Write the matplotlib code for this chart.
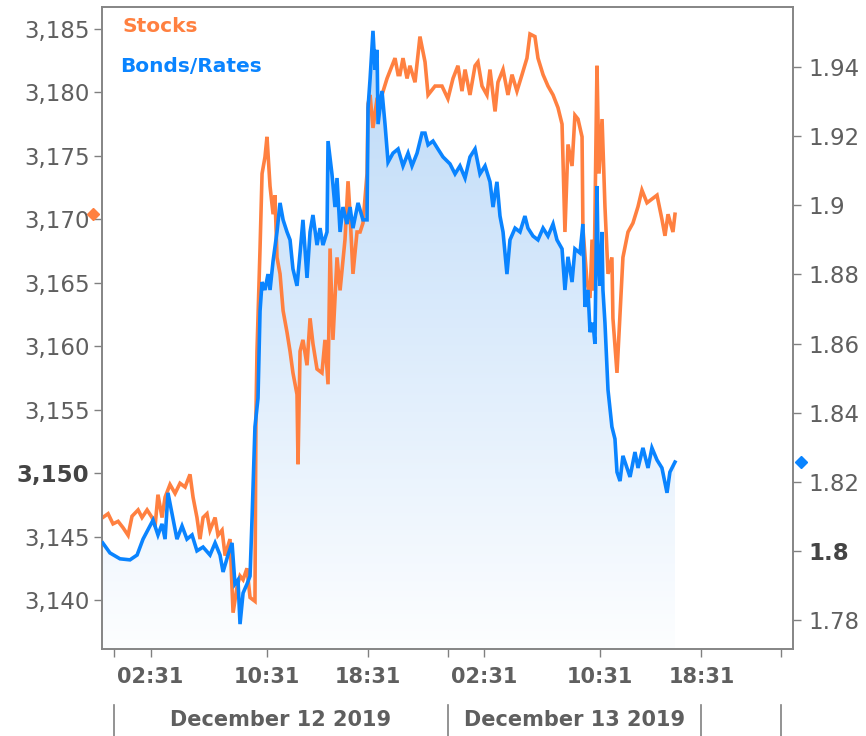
import numpy as np
import matplotlib.pyplot as plt
from matplotlib.colors import LinearSegmentedColormap
from matplotlib.transforms import blended_transform_factory

# time axis: hours since Dec 12 00:00, session clock (17:00-18:00 breaks removed)
bond_t = [-0.78, -0.28, 0.41, 1.10, 1.59, 2.00, 2.48, 2.69, 3.03, 3.31,
          3.52, 3.72, 4.00, 4.34, 4.69, 5.03, 5.38, 5.72, 6.14, 6.62,
          6.97, 7.31, 7.52, 7.86, 8.14, 8.34, 8.55, 8.69, 8.90, 9.17,
          9.38, 9.52, 9.72, 9.93, 10.07, 10.21, 10.41, 10.62, 10.76, 10.97,
          11.24, 11.45, 11.66, 11.93, 12.14, 12.34, 12.62, 12.83, 13.03, 13.31,
          13.52, 13.72, 14.00, 14.21, 14.41, 14.69, 14.76, 15.03, 15.24, 15.38,
          15.59, 15.79, 16.07, 16.28, 16.48, 16.83, 17.17, 17.45, 17.52, 17.66,
          17.86, 18.00, 18.14, 18.21, 18.48, 18.69, 18.90, 19.24, 19.59, 19.93,
          20.28, 20.55, 20.90, 21.24, 21.45, 21.66, 22.00, 22.34, 22.69, 23.17,
          23.52, 23.86, 24.21, 24.55, 24.90, 25.24, 25.59, 25.93, 26.14, 26.41,
          26.62, 26.83, 27.10, 27.31, 27.66, 28.00, 28.34, 28.55, 28.90, 29.24,
          29.59, 29.93, 30.28, 30.55, 30.90, 31.10, 31.31, 31.59, 31.79, 32.14,
          32.34, 32.48, 32.69, 32.83, 33.03, 33.17, 33.31, 33.38, 33.52, 33.66,
          33.72, 33.86, 34.07, 34.34, 34.55, 34.69, 34.90, 35.10, 35.38, 35.59,
          35.93, 36.14, 36.48, 36.83, 37.10, 37.45, 37.79, 38.14, 38.34, 38.69]
bond_v = [1.8023, 1.7994, 1.7977, 1.7974, 1.7988, 1.8034, 1.8072, 1.8089, 1.8046, 1.8078,
          1.8034, 1.8168, 1.8107, 1.8034, 1.8072, 1.8034, 1.8046, 1.8000, 1.8011, 1.7988,
          1.8023, 1.7988, 1.7939, 1.7988, 1.8023, 1.7904, 1.7916, 1.7788, 1.7878, 1.7904,
          1.7927, 1.8095, 1.8359, 1.8442, 1.8694, 1.8778, 1.8755, 1.8801, 1.8755, 1.8839,
          1.8923, 1.9007, 1.8958, 1.8923, 1.8900, 1.8816, 1.8767, 1.8862, 1.8958, 1.8790,
          1.8923, 1.8972, 1.8885, 1.8934, 1.8885, 1.8923, 1.9186, 1.9091, 1.8995, 1.9079,
          1.8923, 1.8995, 1.8946, 1.8995, 1.8934, 1.9007, 1.8958, 1.8958, 1.9282, 1.9366,
          1.9505, 1.9392, 1.9450, 1.9235, 1.9331, 1.9235, 1.9125, 1.9151, 1.9163, 1.9114,
          1.9151, 1.9114, 1.9151, 1.9209, 1.9209, 1.9175, 1.9186, 1.9163, 1.9140, 1.9120,
          1.9091, 1.9114, 1.9079, 1.9140, 1.9163, 1.9091, 1.9114, 1.9068, 1.8995, 1.9068,
          1.8969, 1.8923, 1.8801, 1.8900, 1.8934, 1.8923, 1.8969, 1.8934, 1.8911, 1.8900,
          1.8934, 1.8911, 1.8946, 1.8900, 1.8874, 1.8755, 1.8851, 1.8778, 1.8874, 1.8862,
          1.8946, 1.8706, 1.8755, 1.8633, 1.8660, 1.8599, 1.9056, 1.8874, 1.8767, 1.8923,
          1.8755, 1.8660, 1.8466, 1.8359, 1.8324, 1.8228, 1.8202, 1.8275, 1.8240, 1.8214,
          1.8286, 1.8240, 1.8298, 1.8240, 1.8298, 1.8263, 1.8240, 1.8168, 1.8228, 1.8257]

stock_t = [-0.78, -0.41, -0.07, 0.28, 0.62, 0.97, 1.24, 1.66, 1.93, 2.28,
           2.62, 2.83, 3.03, 3.31, 3.52, 3.86, 4.21, 4.55, 4.90, 5.24,
           5.45, 5.72, 5.93, 6.14, 6.41, 6.62, 6.97, 7.17, 7.45, 7.66,
           8.00, 8.21, 8.48, 8.69, 8.90, 9.17, 9.38, 9.72, 9.79, 9.86,
           10.07, 10.21, 10.41, 10.55, 10.76, 10.97, 11.10, 11.24, 11.45, 11.66,
           11.93, 12.14, 12.34, 12.62, 12.69, 12.83, 13.03, 13.31, 13.52, 13.72,
           14.00, 14.34, 14.55, 14.76, 14.90, 15.10, 15.38, 15.59, 15.93, 16.14,
           16.28, 16.48, 16.76, 16.97, 17.17, 17.45, 17.52, 17.66, 17.86, 18.14,
           18.48, 18.83, 19.17, 19.38, 19.59, 19.72, 19.93, 20.21, 20.41, 20.76,
           21.10, 21.45, 21.66, 22.14, 22.62, 23.03, 23.38, 23.72, 24.00, 24.21,
           24.55, 24.90, 25.10, 25.38, 25.72, 25.93, 26.28, 26.48, 26.83, 27.17,
           27.45, 27.79, 28.14, 28.48, 28.69, 29.03, 29.24, 29.59, 29.93, 30.28,
           30.62, 30.90, 31.10, 31.31, 31.59, 31.79, 32.00, 32.28, 32.34, 32.62,
           32.83, 32.97, 33.10, 33.31, 33.45, 33.66, 33.86, 34.07, 34.34, 34.41,
           34.69, 34.90, 35.10, 35.45, 35.79, 36.14, 36.41, 36.76, 37.10, 37.45,
           37.79, 38.00, 38.21, 38.55, 38.69]
stock_v = [3146.5, 3146.8, 3146.0, 3146.2, 3145.7, 3145.1, 3146.6, 3147.1, 3146.5, 3147.1,
           3146.5, 3145.8, 3148.3, 3146.5, 3148.1, 3149.1, 3148.4, 3149.2, 3148.9, 3149.9,
           3148.1, 3146.5, 3144.8, 3146.5, 3146.8, 3145.5, 3146.5, 3145.1, 3145.5, 3143.5,
           3144.8, 3139.0, 3141.0, 3141.9, 3141.6, 3142.5, 3140.2, 3139.9, 3154.7, 3159.6,
           3167.7, 3173.6, 3174.9, 3176.5, 3172.6, 3170.4, 3171.9, 3167.0, 3165.7, 3162.8,
           3161.1, 3159.6, 3157.9, 3156.2, 3150.7, 3159.6, 3160.5, 3158.5, 3162.2, 3160.2,
           3158.2, 3157.9, 3160.5, 3157.0, 3167.7, 3160.5, 3167.0, 3164.4, 3168.4, 3173.0,
           3170.4, 3165.7, 3169.0, 3169.0, 3169.7, 3173.6, 3179.1, 3179.8, 3177.2, 3179.5,
           3179.8, 3181.1, 3182.1, 3182.7, 3181.4, 3181.4, 3182.7, 3181.1, 3182.1, 3180.8,
           3184.4, 3182.4, 3179.8, 3180.5, 3180.5, 3179.5, 3181.1, 3182.1, 3180.1, 3181.8,
           3179.8, 3182.1, 3182.4, 3180.5, 3179.8, 3181.8, 3178.5, 3180.8, 3181.8, 3179.8,
           3181.4, 3180.1, 3181.4, 3182.7, 3184.6, 3184.4, 3182.7, 3181.4, 3180.5, 3179.8,
           3178.8, 3177.5, 3169.0, 3175.9, 3174.2, 3178.2, 3177.9, 3176.5, 3169.3, 3165.1,
           3163.8, 3168.4, 3164.4, 3182.1, 3173.6, 3177.9, 3171.0, 3165.7, 3167.0, 3162.2,
           3157.9, 3162.5, 3167.0, 3169.0, 3169.7, 3171.0, 3172.3, 3171.3, 3171.6, 3171.9,
           3170.0, 3168.7, 3170.4, 3169.0, 3170.4]

x_ticks = [0, 2.517, 10.517, 17.517, 23, 25.517, 33.517, 40.517, 46]
x_labels = ["", "02:31", "10:31", "18:31", "", "02:31", "10:31", "18:31", ""]
day_edges = [0, 23, 40.517, 46]
day_labels = ["December 12 2019", "December 13 2019"]

stock_ticks = list(range(3140, 3186, 5))
bond_ticks = [1.78, 1.80, 1.82, 1.84, 1.86, 1.88, 1.90, 1.92, 1.94]

ORANGE = "#ff8040"
BLUE = "#0a84ff"
GREY = "#5f5f5f"

fig = plt.figure(figsize=(8.66, 7.36), dpi=100)
ax = fig.add_axes([102 / 866, 87 / 736, 691 / 866, 642 / 736])
ax2 = ax.twinx()

xlim = (-0.83, 46.83)
ylim_s = (3136.14, 3186.73)
ylim_b = (1.7716, 1.9574)

# gradient area under the bond line (drawn in ax so the orange line sits above it)
poly = ax.fill_between(bond_t, bond_v, ylim_b[0], facecolor="none",
                       edgecolor="none", transform=ax2.transData)
cmap = LinearSegmentedColormap.from_list("fade", ["#fdfeff", "#b9d8f8"])
grad = np.linspace(0, 1, 256).reshape(-1, 1)
img = ax.imshow(grad, origin="lower", extent=[0, 1, 0, 1], transform=ax.transAxes,
                aspect="auto", cmap=cmap, zorder=1)
img.set_clip_path(poly.get_paths()[0], poly.get_transform())

ax.plot(stock_t, stock_v, color=ORANGE, lw=2.6, zorder=3, solid_joinstyle="miter")
ax2.plot(bond_t, bond_v, color=BLUE, lw=2.6, zorder=3, solid_joinstyle="miter")

ax.set_xlim(*xlim)
ax.set_ylim(*ylim_s)
ax2.set_ylim(*ylim_b)

# y axes
ax.set_yticks(stock_ticks, [f"{v:,}" for v in stock_ticks])
ax2.set_yticks(bond_ticks, [f"{v:.2f}".rstrip("0").rstrip(".") for v in bond_ticks])
ax.tick_params(axis="y", length=6, width=1, color="#808080", pad=3,
               labelsize=16.5, labelcolor=GREY)
ax2.tick_params(axis="y", length=6, width=1, color="#808080", pad=5,
                labelsize=16.5, labelcolor=GREY)
for lab in ax.get_yticklabels():
    if lab.get_text() == "3,150":
        lab.set_fontweight("bold")
        lab.set_color("#444444")
for lab in ax2.get_yticklabels():
    if lab.get_text() == "1.8":
        lab.set_fontweight("bold")
        lab.set_color("#444444")

# x axis
ax.set_xticks(x_ticks, x_labels)
ax.tick_params(axis="x", length=6, width=1, color="#808080", pad=7,
               labelsize=15, labelcolor=GREY)
for lab in ax.get_xticklabels():
    lab.set_fontweight("bold")

for a in (ax, ax2):
    for s in a.spines.values():
        s.set_color("#858585")
        s.set_linewidth(1.2)

# lower row: day names with separators
tr = blended_transform_factory(ax.transData, ax.transAxes)
for e in day_edges:
    ax.plot([e, e], [-0.087, -0.136], color="#808080", lw=1.2, transform=tr, clip_on=False)
for i, name in enumerate(day_labels):
    mid = (day_edges[i] + day_edges[i + 1]) / 2
    ax.text(mid, -0.111, name, transform=tr, ha="center", va="center",
            fontsize=15, fontweight="bold", color=GREY)

# current value markers outside the frame
ax.plot([-0.013], [stock_v[-1]], marker="D", ms=6.5, color=ORANGE, clip_on=False,
        transform=blended_transform_factory(ax.transAxes, ax.transData))
ax2.plot([1.0116], [bond_v[-1]], marker="D", ms=6.5, color=BLUE, clip_on=False,
         transform=blended_transform_factory(ax2.transAxes, ax2.transData))

# legend text
ax.text(0.030, 0.969, "Stocks", transform=ax.transAxes, color=ORANGE,
        fontsize=14.5, fontweight="bold", va="center", ha="left")
ax.text(0.026, 0.908, "Bonds/Rates", transform=ax.transAxes, color=BLUE,
        fontsize=14.5, fontweight="bold", va="center", ha="left")

fig.savefig("out.png", dpi=100)
